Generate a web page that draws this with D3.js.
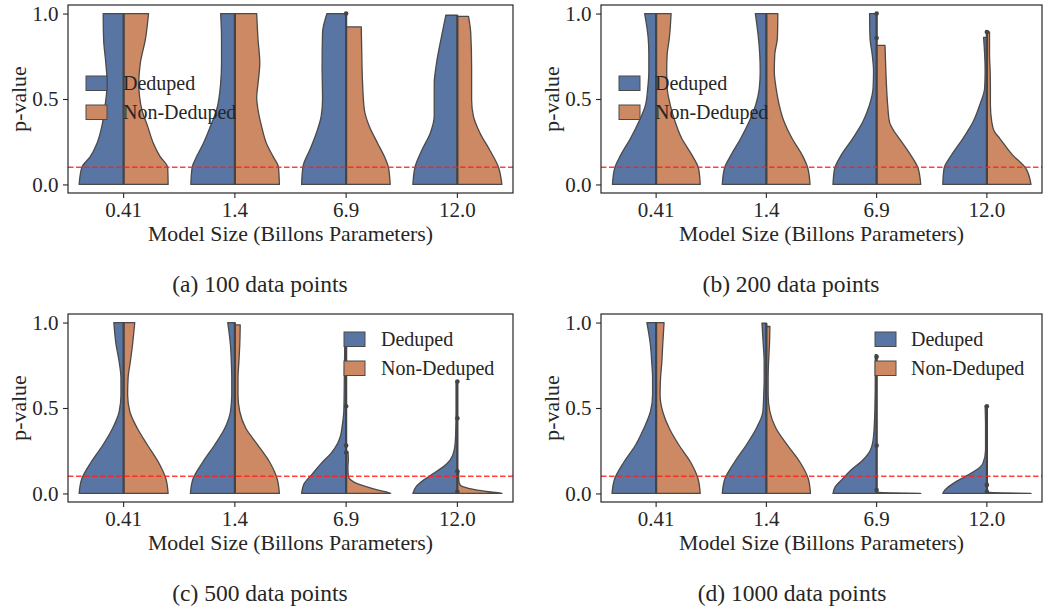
<!DOCTYPE html>
<html>
<head>
<meta charset="utf-8">
<script src="https://cdn.jsdelivr.net/npm/d3@7"></script>
<style>
  html, body { margin: 0; padding: 0; background: #fff; }
  svg { display: block; }
  text { font-family: "Liberation Serif", "Times New Roman", serif; fill: #262626; }
</style>
</head>
<body>
<svg id="chart" width="1046" height="609"></svg>
<script>
// ---------------- DATA ----------------
const categories = ["0.41", "1.4", "6.9", "12.0"];
const seriesNames = ["Deduped", "Non-Deduped"];
const captions = ["(a) 100 data points", "(b) 200 data points", "(c) 500 data points", "(d) 1000 data points"];
const yTicks = [0.0, 0.5, 1.0];
const thresholdP = 0.1;
const xAxisTitle = "Model Size (Billons Parameters)";
const yAxisTitle = "p-value";

// density profiles: [p-value, relative density (max = 1)] per category
const deduped100 = [
  [[0,1.0],[0.1,0.94],[0.163,0.75],[0.24,0.6],[0.34,0.49],[0.437,0.43],[0.59,0.37],[0.71,0.4],[0.85,0.45],[1.0,0.46]],
  [[0,0.99],[0.1,0.96],[0.163,0.86],[0.24,0.71],[0.34,0.55],[0.437,0.41],[0.59,0.32],[0.71,0.3],[0.85,0.3],[1.0,0.32]],
  [[0,1.0],[0.104,0.97],[0.2,0.82],[0.3,0.67],[0.4,0.56],[0.496,0.53],[0.69,0.54],[0.887,0.53],[1.0,0.43]],
  [[0,1.0],[0.104,0.95],[0.2,0.8],[0.3,0.61],[0.4,0.52],[0.496,0.52],[0.59,0.52],[0.69,0.48],[0.887,0.34],[0.99,0.26]]
];
const nonDeduped100 = [
  [[0,1.0],[0.1,0.99],[0.163,0.82],[0.24,0.67],[0.34,0.54],[0.437,0.41],[0.51,0.36],[0.59,0.34],[0.71,0.375],[0.85,0.49],[1.0,0.56]],
  [[0,1.0],[0.1,0.98],[0.163,0.86],[0.24,0.71],[0.34,0.6],[0.437,0.52],[0.51,0.49],[0.59,0.52],[0.71,0.56],[0.85,0.52],[1.0,0.49]],
  [[0,0.99],[0.1,0.95],[0.163,0.86],[0.24,0.71],[0.34,0.52],[0.437,0.41],[0.59,0.37],[0.79,0.35],[0.922,0.34]],
  [[0,1.0],[0.104,0.92],[0.2,0.73],[0.3,0.51],[0.4,0.36],[0.496,0.32],[0.69,0.32],[0.887,0.3],[0.984,0.25]]
];
const deduped200 = [
  [[0,0.99],[0.095,0.94],[0.173,0.8],[0.27,0.58],[0.368,0.39],[0.466,0.24],[0.564,0.19],[0.66,0.165],[0.76,0.165],[0.857,0.18],[1.0,0.26]],
  [[0,1.0],[0.095,0.95],[0.173,0.8],[0.27,0.58],[0.368,0.39],[0.466,0.24],[0.564,0.16],[0.66,0.14],[0.76,0.15],[0.857,0.18],[1.0,0.25]],
  [[0,0.99],[0.095,0.95],[0.173,0.8],[0.27,0.54],[0.368,0.31],[0.466,0.16],[0.564,0.08],[0.66,0.07],[0.76,0.1],[0.857,0.15],[1.0,0.16]],
  [[0,1.0],[0.095,0.97],[0.173,0.8],[0.27,0.54],[0.368,0.31],[0.466,0.16],[0.564,0.05],[0.66,0.04],[0.76,0.05],[0.861,0.075]]
];
const nonDeduped200 = [
  [[0,1.0],[0.095,0.96],[0.173,0.81],[0.27,0.58],[0.368,0.43],[0.466,0.32],[0.564,0.25],[0.66,0.24],[0.76,0.25],[0.857,0.3],[1.0,0.34]],
  [[0,0.99],[0.095,0.94],[0.173,0.81],[0.27,0.58],[0.368,0.4],[0.466,0.29],[0.564,0.22],[0.66,0.18],[0.76,0.19],[0.857,0.25],[1.0,0.26]],
  [[0,1.0],[0.095,0.94],[0.173,0.77],[0.27,0.51],[0.31,0.4],[0.368,0.29],[0.466,0.25],[0.66,0.21],[0.814,0.19]],
  [[0,1.0],[0.095,0.88],[0.173,0.58],[0.27,0.29],[0.31,0.17],[0.368,0.11],[0.466,0.08],[0.564,0.08],[0.66,0.075],[0.76,0.06],[0.892,0.06]]
];
const deduped500 = [
  [[0,1.0],[0.086,0.94],[0.184,0.73],[0.282,0.47],[0.38,0.25],[0.478,0.1],[0.576,0.06],[0.674,0.06],[0.77,0.1],[0.87,0.17],[1.0,0.22]],
  [[0,1.0],[0.086,0.94],[0.184,0.72],[0.282,0.46],[0.38,0.23],[0.478,0.1],[0.576,0.07],[0.674,0.07],[0.77,0.08],[0.87,0.1],[1.0,0.16]],
  [[0,1.0],[0.059,0.94],[0.117,0.75],[0.176,0.56],[0.235,0.34],[0.294,0.19],[0.333,0.13],[0.391,0.09],[0.489,0.05],[0.685,0.04],[0.884,0.03]],
  [[0,1.0],[0.039,0.93],[0.078,0.76],[0.117,0.54],[0.157,0.31],[0.196,0.16],[0.255,0.07],[0.333,0.04],[0.489,0.03],[0.655,0.03]]
];
const nonDeduped500 = [
  [[0,1.0],[0.086,0.95],[0.184,0.78],[0.282,0.54],[0.38,0.31],[0.478,0.14],[0.576,0.09],[0.674,0.1],[0.77,0.15],[0.87,0.2],[1.0,0.25]],
  [[0,1.0],[0.086,0.95],[0.184,0.78],[0.282,0.52],[0.38,0.25],[0.478,0.11],[0.576,0.07],[0.674,0.07],[0.77,0.09],[0.87,0.11],[0.986,0.12]],
  [[0,1.0],[0.01,0.88],[0.02,0.72],[0.04,0.45],[0.06,0.22],[0.08,0.1],[0.1,0.05],[0.15,0.04],[0.2,0.05],[0.245,0.04]],
  [[0,1.0],[0.005,0.9],[0.01,0.7],[0.02,0.45],[0.03,0.25],[0.04,0.12],[0.05,0.06],[0.08,0.03],[0.13,0.03]]
];
const deduped1000 = [
  [[0,1.0],[0.086,0.94],[0.184,0.73],[0.282,0.47],[0.38,0.28],[0.478,0.13],[0.576,0.08],[0.674,0.08],[0.77,0.1],[0.87,0.13],[1.0,0.21]],
  [[0,1.0],[0.086,0.94],[0.184,0.72],[0.282,0.46],[0.38,0.23],[0.478,0.08],[0.576,0.06],[0.674,0.05],[0.77,0.05],[0.87,0.07],[0.996,0.1]],
  [[0,0.99],[0.039,0.94],[0.078,0.8],[0.137,0.58],[0.196,0.31],[0.254,0.14],[0.333,0.07],[0.489,0.04],[0.7,0.03],[0.812,0.03]],
  [[0,1.0],[0.02,0.95],[0.059,0.76],[0.098,0.5],[0.137,0.24],[0.176,0.09],[0.254,0.03],[0.391,0.03],[0.513,0.04]]
];
const nonDeduped1000 = [
  [[0,1.0],[0.086,0.95],[0.184,0.78],[0.282,0.52],[0.38,0.3],[0.478,0.15],[0.576,0.09],[0.674,0.1],[0.77,0.13],[0.87,0.15],[1.0,0.18]],
  [[0,1.0],[0.086,0.95],[0.184,0.76],[0.282,0.48],[0.38,0.22],[0.478,0.08],[0.576,0.04],[0.674,0.04],[0.77,0.05],[0.87,0.07],[0.977,0.08]],
  [[0,1.0],[0.003,0.4],[0.006,0.05],[0.012,0.01]],
  [[0,1.0],[0.003,0.4],[0.006,0.05],[0.01,0.01]]
];
// visible individual observations on the centre line: [category index, p-value]
const points100 = [[2,1.0]];
const points200 = [[2,1.0],[2,0.857],[3,0.892]];
const points500 = [[2,0.51],[2,0.28],[2,0.24],[3,0.655],[3,0.44],[3,0.13],[3,0.01]];
const points1000 = [[2,0.8],[2,0.28],[2,0.02],[3,0.51],[3,0.05],[3,0.01]];

// ---------------- LAYOUT / STYLE ----------------
const colors = ["#5875a4", "#cc8963"];
const edgeColor = "#4a4a4a";
const tickFont = 21;
const titleFont = 21.8;
const legendFont = 20;
const captionFont = 23.5;
const panels = [
  { x0: 68,  x1: 513,  y0: 5,   y1: 193, capX: 260, legend: { x: 86,  y: 76,  tx: 123 }, ded: deduped100,  non: nonDeduped100,  pts: points100 },
  { x0: 601, x1: 1042, y0: 5,   y1: 193, capX: 791, legend: { x: 619, y: 76,  tx: 655 }, ded: deduped200,  non: nonDeduped200,  pts: points200 },
  { x0: 68,  x1: 513,  y0: 314, y1: 502, capX: 260, legend: { x: 344, y: 332, tx: 381 }, ded: deduped500,  non: nonDeduped500,  pts: points500 },
  { x0: 601, x1: 1042, y0: 314, y1: 502, capX: 792, legend: { x: 875, y: 332, tx: 911 }, ded: deduped1000, non: nonDeduped1000, pts: points1000 }
];

const svg = d3.select("#chart");

panels.forEach((P, pi) => {
  const g = svg.append("g");
  const x = d3.scaleBand().domain(categories).range([P.x0, P.x1]).padding(0);
  const y = d3.scaleLinear().domain([-0.05, 1.05]).range([P.y1, P.y0]);
  const halfW = x.bandwidth() * 0.4;
  const wScale = d3.scaleLinear().domain([0, 1]).range([0, halfW]);

  // violins
  categories.forEach((c, ci) => {
    const cx = x(c) + x.bandwidth() / 2;
    [P.ded[ci], P.non[ci]].forEach((prof, si) => {
      const sign = si === 0 ? -1 : 1;
      const area = d3.area()
        .y(d => y(d[0]))
        .x0(cx)
        .x1(d => cx + sign * wScale(d[1]))
        .curve(d3.curveMonotoneY);
      g.append("path")
        .attr("d", area(prof))
        .attr("fill", colors[si])
        .attr("stroke", edgeColor)
        .attr("stroke-width", 1.3)
        .attr("stroke-linejoin", "round");
    });
    const top = Math.max(d3.max(P.ded[ci], d => d[0]), d3.max(P.non[ci], d => d[0]));
    g.append("line")
      .attr("x1", cx).attr("x2", cx)
      .attr("y1", y(0)).attr("y2", y(top))
      .attr("stroke", "#444").attr("stroke-width", 2.2);
  });
  // points on centre
  g.selectAll("circle.pt").data(P.pts).join("circle")
    .attr("class", "pt")
    .attr("cx", d => x(categories[d[0]]) + x.bandwidth() / 2)
    .attr("cy", d => y(d[1]))
    .attr("r", 2.3)
    .attr("fill", "#444");

  // threshold line
  g.append("line")
    .attr("x1", P.x0).attr("x2", P.x1)
    .attr("y1", y(thresholdP)).attr("y2", y(thresholdP))
    .attr("stroke", "#ff2020").attr("stroke-opacity", 0.85)
    .attr("stroke-width", 1.5)
    .attr("stroke-dasharray", "5.5,2.5");

  // frame
  g.append("rect")
    .attr("x", P.x0).attr("y", P.y0)
    .attr("width", P.x1 - P.x0).attr("height", P.y1 - P.y0)
    .attr("fill", "none").attr("stroke", "#262626").attr("stroke-width", 1.2);

  // axes
  const xAxis = d3.axisBottom(x).tickSize(5).tickPadding(5);
  const gx = g.append("g").attr("transform", `translate(0,${P.y1})`).call(xAxis);
  const yAxis = d3.axisLeft(y).tickValues(yTicks).tickFormat(d3.format(".1f")).tickSize(5).tickPadding(4.5);
  const gy = g.append("g").attr("transform", `translate(${P.x0},0)`).call(yAxis);
  [gx, gy].forEach(ax => {
    ax.select(".domain").remove();
    ax.selectAll(".tick line").attr("stroke", "#262626").attr("stroke-width", 1.1);
    ax.selectAll(".tick text")
      .attr("font-size", tickFont)
      .attr("font-family", "Liberation Serif, Times New Roman, serif")
      .attr("fill", "#262626");
  });
  gx.selectAll(".tick text").attr("dy", null).attr("y", 23.5).attr("dominant-baseline", "auto");

  // axis titles
  g.append("text")
    .attr("x", (P.x0 + P.x1) / 2).attr("y", P.y1 + 47.5)
    .attr("text-anchor", "middle").attr("font-size", titleFont)
    .text(xAxisTitle);
  g.append("text")
    .attr("transform", `translate(${P.x0 - 49},${(P.y0 + P.y1) / 2}) rotate(-90)`)
    .attr("text-anchor", "middle").attr("dominant-baseline", "central").attr("font-size", titleFont)
    .text(yAxisTitle);

  // legend
  const L = g.append("g");
  seriesNames.forEach((s, si) => {
    const ly = P.legend.y + si * 29;
    L.append("rect")
      .attr("x", P.legend.x).attr("y", ly)
      .attr("width", 21).attr("height", 14.5)
      .attr("fill", colors[si]).attr("stroke", edgeColor).attr("stroke-width", 1);
    L.append("text")
      .attr("x", P.legend.tx).attr("y", ly + 7.2)
      .attr("dominant-baseline", "central")
      .attr("font-size", legendFont)
      .text(s);
  });

  // caption
  g.append("text")
    .attr("x", P.capX).attr("y", P.y1 + 98.5)
    .attr("text-anchor", "middle").attr("font-size", captionFont)
    .text(captions[pi]);
});
</script>
</body>
</html>
